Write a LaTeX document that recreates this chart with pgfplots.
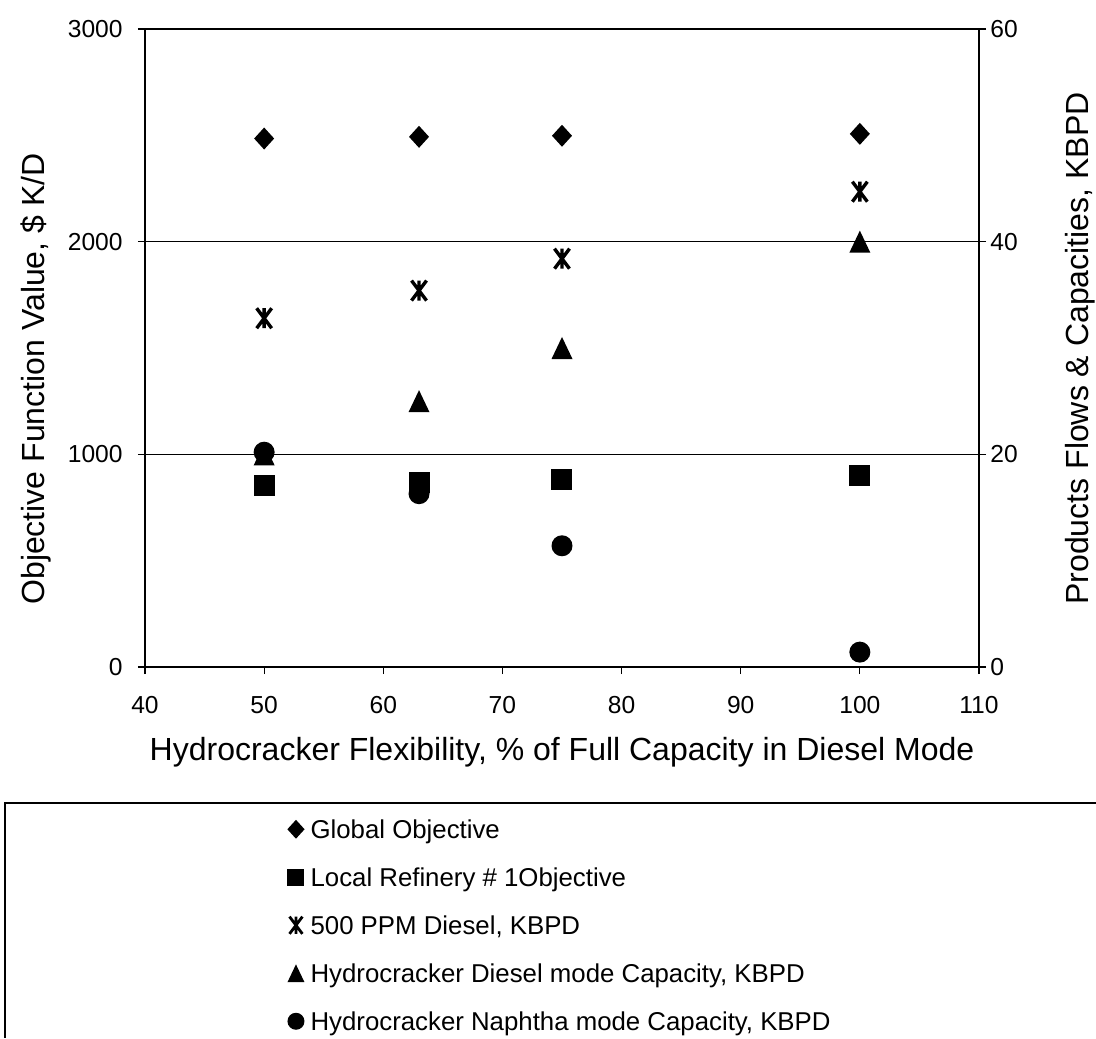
\documentclass[border=0pt]{standalone}
\usepackage{fontspec}
\setmainfont{Liberation Sans}
\usepackage{pgfplots}
\pgfplotsset{compat=1.18}

\pgfdeclareplotmark{dia}{%
  \pgfpathmoveto{\pgfqpoint{0pt}{1.1\pgfplotmarksize}}%
  \pgfpathlineto{\pgfqpoint{\pgfplotmarksize}{0pt}}%
  \pgfpathlineto{\pgfqpoint{0pt}{-1.1\pgfplotmarksize}}%
  \pgfpathlineto{\pgfqpoint{-\pgfplotmarksize}{0pt}}%
  \pgfpathclose\pgfusepathqfill}
\pgfdeclareplotmark{sq}{%
  \pgfpathrectangle{\pgfqpoint{-\pgfplotmarksize}{-\pgfplotmarksize}}{\pgfqpoint{2\pgfplotmarksize}{2\pgfplotmarksize}}%
  \pgfusepathqfill}
\pgfdeclareplotmark{tri}{%
  \pgfpathmoveto{\pgfqpoint{-\pgfplotmarksize}{-1.05\pgfplotmarksize}}%
  \pgfpathlineto{\pgfqpoint{\pgfplotmarksize}{-1.05\pgfplotmarksize}}%
  \pgfpathlineto{\pgfqpoint{0pt}{1.05\pgfplotmarksize}}%
  \pgfpathclose\pgfusepathqfill}
\pgfdeclareplotmark{circ}{%
  \pgfpathcircle{\pgfpointorigin}{\pgfplotmarksize}\pgfusepathqfill}
\pgfdeclareplotmark{xstar}{%
  \pgfpathmoveto{\pgfqpoint{-.75\pgfplotmarksize}{-\pgfplotmarksize}}%
  \pgfpathlineto{\pgfqpoint{.75\pgfplotmarksize}{\pgfplotmarksize}}%
  \pgfpathmoveto{\pgfqpoint{-.75\pgfplotmarksize}{\pgfplotmarksize}}%
  \pgfpathlineto{\pgfqpoint{.75\pgfplotmarksize}{-\pgfplotmarksize}}%
  \pgfpathmoveto{\pgfqpoint{0pt}{-\pgfplotmarksize}}%
  \pgfpathlineto{\pgfqpoint{0pt}{\pgfplotmarksize}}%
  \pgfusepathqstroke}

\pgfplotsset{
  mystyle/.style={
    scale only axis, width=417pt, height=319pt,
    at={(0,0)}, anchor=south west,
    xmin=40, xmax=110,
    tick align=outside, major tick length=3.5pt,
    tick style={black, line width=0.6pt},
    axis line style={black, line width=0.8pt},
    ticklabel style={font=\fontsize{12.3}{14}\selectfont},
    /pgf/number format/assume math mode=true,
    /pgf/number format/1000 sep={},
    label style={font=\fontsize{16}{19}\selectfont, inner sep=0pt},
  },
}

\begin{document}
\begin{tikzpicture}
\path[use as bounding box] (-72.5pt,-185.5pt) rectangle (475.5pt,333.5pt);

\begin{axis}[mystyle,
  ymin=0, ymax=3000,
  xtick={40,50,...,110}, xtick pos=bottom,
  ytick={0,1000,2000,3000}, ytick pos=left,
  ymajorgrids, grid style={black, line width=0.6pt},
  xticklabel style={anchor=base, inner sep=0pt, yshift=-19.5pt},
  yticklabel style={anchor=east, inner sep=0pt, xshift=-7.5pt},
  xlabel={Hydrocracker Flexibility, \% of Full Capacity in Diesel Mode},
  xlabel style={at={(axis description cs:0.5,-0.1458)}, anchor=base},
  ylabel={Objective Function Value, \$ K/D},
  ylabel style={at={(axis description cs:-0.1205,0.0972)}, anchor=base west},
]
\addplot[only marks, black, mark=dia, mark size=5pt, mark options={fill=black}]
  coordinates {(50,2485) (63,2493) (75,2498) (100,2507)};
\addplot[only marks, black, mark=sq, mark size=5.25pt, mark options={fill=black}]
  coordinates {(50,853) (63,867) (75,881) (100,899)};
\end{axis}

\begin{axis}[mystyle,
  ymin=0, ymax=60,
  axis x line=none, axis y line*=right,
  ytick={0,20,40,60},
  yticklabel style={anchor=west, inner sep=0pt, xshift=2pt},
  ylabel={Products Flows \& Capacities, KBPD},
  ylabel style={at={(axis description cs:1.1307,0.0972)}, anchor=base west, rotate=0},
  legend image code/.code={\draw[#1] plot coordinates {(0pt,0pt)};},
  legend cell align=left,
  legend style={at={(axis description cs:0.1707,-0.236)}, anchor=north west,
    draw=none, fill=none, inner sep=0pt, outer sep=0pt,
    row sep=12.3pt, column sep=3pt,
    font=\fontsize{12.9}{15}\selectfont,
    nodes={inner sep=0pt, text height=10.3pt, text depth=1.4pt}},
]
\addlegendimage{only marks, black, mark=dia, mark size=4.3pt, mark options={fill=black}}
\addlegendentry{Global Objective}
\addlegendimage{only marks, black, mark=sq, mark size=4.25pt, mark options={fill=black}}
\addlegendentry{Local Refinery \# 1Objective}
\addlegendimage{only marks, black, mark=xstar, mark size=4.3pt, mark options={line width=1.4pt}}
\addlegendentry{500 PPM Diesel, KBPD}
\addlegendimage{only marks, black, mark=tri, mark size=4.25pt, mark options={fill=black}}
\addlegendentry{Hydrocracker Diesel mode Capacity, KBPD}
\addlegendimage{only marks, black, mark=circ, mark size=4.25pt, mark options={fill=black}}
\addlegendentry{Hydrocracker Naphtha mode Capacity, KBPD}

\addplot[forget plot, only marks, black, mark=xstar, mark size=5pt, mark options={line width=1.7pt}]
  coordinates {(50,32.8) (63,35.4) (75,38.4) (100,44.7)};
\addplot[forget plot, only marks, black, mark=tri, mark size=5.25pt, mark options={fill=black}]
  coordinates {(50,20) (63,25) (75,30) (100,40)};
\addplot[forget plot, only marks, black, mark=circ, mark size=5.25pt, mark options={fill=black}]
  coordinates {(50,20.2) (63,16.3) (75,11.4) (100,1.4)};
\end{axis}

\draw[black, line width=0.6pt] (475.5pt,-68pt) -- (-70pt,-68pt) -- (-70pt,-185.5pt);
\end{tikzpicture}
\end{document}
